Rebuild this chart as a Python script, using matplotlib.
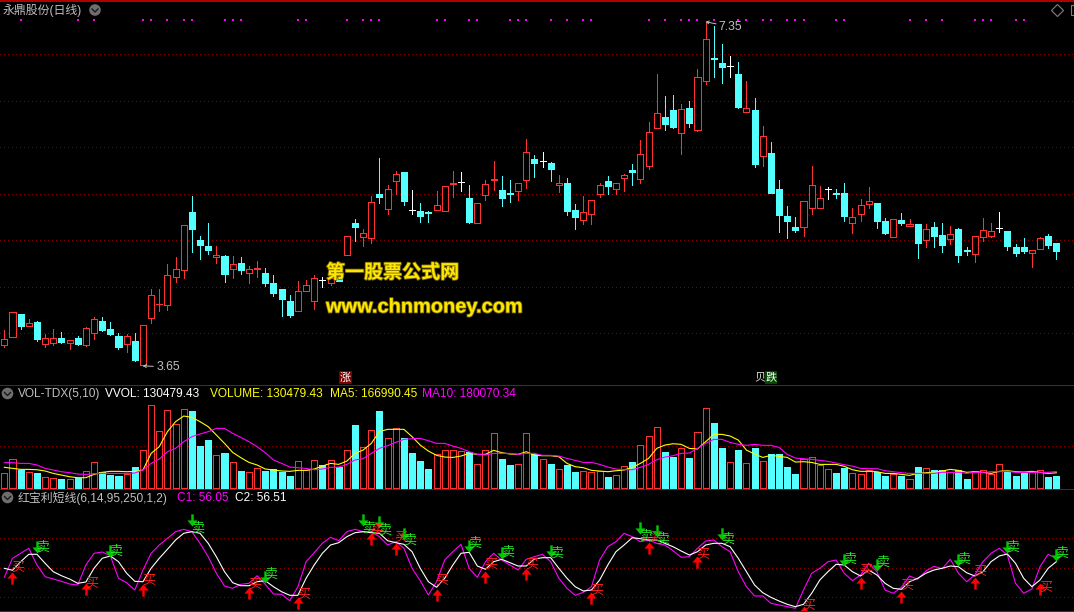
import matplotlib
matplotlib.use("Agg")
import matplotlib.pyplot as plt
from matplotlib.path import Path
from matplotlib.patches import Rectangle, Circle
import matplotlib.patheffects as pe
import numpy as np

opens = [3.87,3.96,4.21,4.08,4.12,3.88,3.90,3.95,3.90,3.95,
3.87,4.00,4.13,4.05,3.97,3.88,3.92,3.66,4.16,4.31,
4.30,4.61,4.68,5.30,5.00,4.94,4.82,4.83,4.69,4.76,
4.65,4.69,4.65,4.54,4.48,4.35,4.24,4.45,4.35,4.57,
4.54,4.59,4.84,5.19,5.04,5.02,5.50,5.34,5.64,5.73,
5.33,5.32,5.30,5.33,5.31,5.61,5.63,5.45,5.19,5.49,
5.65,5.54,5.51,5.53,5.65,5.87,5.85,5.83,5.60,5.62,
5.33,5.22,5.28,5.50,5.64,5.55,5.67,5.76,5.66,5.80,
6.21,6.33,6.40,6.15,6.42,6.19,6.71,6.96,6.91,6.87,
6.79,6.38,6.40,5.91,5.94,5.55,5.26,5.14,5.14,5.35,
5.35,5.55,5.51,5.51,5.19,5.28,5.39,5.40,5.21,5.04,
5.22,5.15,5.18,5.00,5.14,5.06,5.01,5.12,4.90,4.85,
5.04,5.05,5.13,5.10,4.93,4.93,4.86,4.91,5.05,4.97]
closes = [3.94,4.23,4.08,4.11,3.94,3.95,3.95,3.91,3.93,3.89,
4.06,4.15,4.04,3.99,3.85,3.97,3.71,4.09,4.41,4.32,
4.63,4.69,5.16,5.12,4.95,4.90,4.84,4.64,4.74,4.68,
4.69,4.70,4.54,4.43,4.37,4.20,4.45,4.52,4.60,4.57,
4.59,4.56,5.05,5.14,5.08,5.41,5.47,5.55,5.71,5.42,
5.33,5.26,5.29,5.38,5.58,5.62,5.63,5.20,5.40,5.61,
5.66,5.45,5.50,5.62,5.95,5.83,5.85,5.77,5.62,5.32,
5.25,5.30,5.43,5.60,5.58,5.62,5.70,5.73,5.93,6.17,
6.37,6.25,6.22,6.41,6.26,6.76,7.16,6.95,6.86,6.87,
6.43,6.42,5.82,6.12,5.51,5.27,5.21,5.11,5.42,5.60,
5.45,5.55,5.50,5.26,5.25,5.38,5.42,5.21,5.08,5.23,
5.19,5.18,4.97,5.12,5.05,4.95,5.07,4.84,4.89,5.05,
5.11,5.10,5.13,4.94,4.86,4.89,4.90,5.02,4.95,4.89]
highs = [4.04,4.23,4.21,4.15,4.13,3.99,4.05,4.01,3.93,3.97,
4.07,4.18,4.18,4.12,4.00,3.99,4.00,4.09,4.48,4.48,
4.74,4.82,5.16,5.48,5.05,5.19,4.94,4.84,4.83,4.82,
4.72,4.78,4.70,4.63,4.48,4.41,4.56,4.57,4.63,4.61,
4.68,4.62,5.05,5.23,5.12,5.48,5.89,5.59,5.75,5.73,
5.54,5.40,5.31,5.53,5.58,5.75,5.73,5.59,5.40,5.65,
5.85,5.69,5.65,5.62,6.09,5.92,5.95,5.84,5.70,5.67,
5.39,5.48,5.43,5.62,5.69,5.62,5.71,5.82,6.08,6.27,
6.79,6.55,6.56,6.47,6.50,6.84,7.35,7.30,7.11,6.98,
6.92,6.71,6.53,6.23,6.06,5.65,5.37,5.25,5.42,5.80,
5.58,5.57,5.55,5.62,5.35,5.44,5.57,5.40,5.24,5.23,
5.29,5.23,5.18,5.18,5.20,5.19,5.15,5.13,4.93,5.05,
5.24,5.19,5.30,5.10,4.96,5.03,4.90,5.04,5.07,4.97]
lows = [3.85,3.96,4.05,4.08,3.92,3.85,3.87,3.90,3.83,3.87,
3.86,3.94,4.02,3.98,3.83,3.80,3.70,3.65,4.11,4.24,
4.25,4.55,4.60,4.87,4.80,4.85,4.76,4.55,4.60,4.64,
4.54,4.61,4.51,4.40,4.19,4.18,4.24,4.45,4.26,4.50,
4.52,4.56,4.84,4.99,4.94,4.97,5.40,5.28,5.50,5.38,
5.28,5.20,5.20,5.33,5.31,5.47,5.53,5.19,5.19,5.43,
5.54,5.37,5.41,5.43,5.56,5.68,5.79,5.64,5.52,5.27,
5.12,5.18,5.18,5.47,5.50,5.50,5.53,5.59,5.62,5.77,
6.21,6.19,6.21,5.93,6.22,6.18,6.68,6.76,6.69,6.76,
6.42,6.38,5.79,5.80,5.51,5.09,5.03,5.09,5.05,5.28,
5.35,5.44,5.45,5.21,5.08,5.21,5.35,5.13,5.07,5.04,
5.17,5.15,4.81,4.93,4.93,4.87,4.96,4.77,4.84,4.77,
4.99,5.04,5.09,4.90,4.83,4.86,4.71,4.91,4.92,4.80]

# volume, thousands
volume = [160,317,201,172,164,116,104,97,93,104,183,283,172,145,134,149,231,418,921,630,
865,709,877,858,466,533,362,388,283,187,172,216,187,209,175,131,295,194,306,254,
306,231,418,701,455,642,858,552,664,556,388,298,209,373,418,418,407,395,261,418,
608,321,254,261,608,373,317,265,205,254,175,183,175,190,116,138,239,287,474,574,
675,399,343,440,332,619,888,724,444,283,421,272,444,295,377,377,231,153,321,339,
250,205,164,220,160,149,194,172,131,149,131,93,231,216,198,198,172,198,97,183,
194,149,261,179,131,164,172,194,119,130]
ma5 = [228,216,205,205,201,187,160,142,123,112,112,149,172,183,183,179,183,198,384,459,
627,739,802,787,739,683,589,496,395,336,283,254,209,198,187,183,194,194,209,242,
272,261,298,384,421,496,627,653,653,653,571,477,410,362,343,339,354,384,373,373,
418,392,377,373,403,362,358,358,347,272,235,224,194,187,179,190,198,228,272,328,
440,477,492,485,440,433,515,597,597,578,533,421,377,339,362,351,339,287,291,283,
261,261,261,239,201,183,183,179,160,160,149,138,160,168,175,187,205,194,172,179,
172,160,183,190,179,175,183,172,160,167]
ma10 = [280,280,272,272,254,216,198,179,168,153,149,157,160,160,160,160,164,198,272,321,
403,440,515,571,601,627,664,664,608,563,515,459,392,310,272,231,224,216,201,209,
228,231,261,310,325,384,440,470,507,541,548,552,526,496,496,466,440,403,373,366,
384,384,384,373,384,384,362,362,354,328,306,283,283,261,231,209,201,201,228,261,
313,343,358,384,388,440,496,541,541,507,485,474,485,474,474,451,373,332,325,317,
306,295,276,257,242,216,213,213,190,179,168,160,160,160,160,172,172,172,160,172,
172,179,179,183,172,172,172,172,172,180]

c1 = [41.0,60.0,65.0,70.0,53.3,41.6,39.3,37.0,34.3,33.3,53.3,65.0,66.3,62.6,40.0,35.6,28.3,48.3,65.0,73.3,
80.0,86.6,89.0,86.6,75.0,61.6,45.0,32.3,30.0,34.0,35.0,42.6,34.0,24.3,24.0,17.6,31.6,56.6,65.6,75.0,
81.0,77.6,86.6,89.0,86.6,86.6,81.6,73.3,76.6,70.0,50.0,37.6,23.3,36.6,58.3,66.6,74.0,50.0,41.0,56.6,
65.0,58.3,53.3,48.3,59.0,61.6,64.0,56.6,40.0,30.0,23.0,26.0,31.6,58.3,71.6,76.6,85.0,81.6,76.6,78.3,
75.0,73.3,67.6,61.0,61.6,70.0,77.3,78.3,71.6,66.6,46.6,31.6,22.3,22.3,15.0,13.3,11.6,10.0,28.3,45.0,
50.0,56.6,58.3,45.0,37.6,43.3,55.0,46.6,28.3,25.0,31.0,42.3,39.0,47.3,52.0,49.6,59.0,45.0,36.6,43.3,
56.6,65.0,70.0,63.3,35.0,25.0,29.3,51.6,64.0,60.0]
c2 = [50.0,48.0,56.6,64.0,64.0,55.0,46.6,42.6,39.3,35.0,36.3,50.0,60.0,62.3,56.6,45.0,37.0,36.6,50.0,60.0,
69.0,78.3,85.0,86.6,85.0,75.0,61.6,46.6,35.6,32.6,32.6,36.6,37.6,31.6,26.6,23.0,23.0,40.0,53.3,65.0,
73.3,75.6,81.6,85.6,86.6,85.6,85.0,77.6,75.6,74.0,66.6,50.0,36.6,31.0,40.0,53.3,65.0,66.0,52.3,49.0,
56.6,59.0,55.6,52.3,52.3,59.3,60.6,60.6,50.0,40.0,31.6,27.3,28.3,38.3,53.3,66.6,73.3,80.6,79.6,78.3,
78.3,75.0,71.6,67.3,63.3,66.6,73.3,75.0,75.0,71.6,60.0,46.6,33.3,25.6,21.0,17.3,14.0,11.6,14.0,25.0,
38.3,46.6,54.0,53.3,46.6,42.3,48.3,43.3,35.0,30.0,29.0,36.6,40.0,45.0,48.3,50.0,52.3,51.6,45.6,42.3,
46.6,56.6,62.3,64.3,55.0,40.0,31.6,38.3,50.0,56.6]

buy_bars = [1,10,17,30,36,45,48,53,59,64,72,79,85,98,105,110,119,127]
buy_tips = [46.6,35.6,34.3,31.6,21.0,85.6,75.0,29.6,47.0,50.6,26.6,76.6,62.6,12.6,41.0,27.6,41.0,35.0]
buy_text = [50.0,34.0,37.6,33.3,23.3,87.3,80.6,37.6,53.0,53.3,27.6,80.0,63.3,12.3,47.3,32.3,46.6,30.6]
sell_bars = [4,13,23,32,44,46,49,57,61,67,78,80,88,103,107,117,123,129]
sell_tips = [65.6,61.6,92.3,35.0,92.3,90.0,78.3,66.6,59.0,61.0,84.0,81.0,78.3,52.3,47.3,52.3,65.0,57.6]
sell_text = [70.6,66.6,90.0,43.3,90.0,87.6,77.3,75.0,65.6,64.3,81.6,78.3,78.3,58.3,55.6,59.0,71.0,64.3]
dot_bars = [2,9,11,17,18,20,22,23,27,28,29,36,37,42,44,45,46,53,54,57,58,62,63,64,67,69,71,72,
79,81,83,84,85,87,90,91,93,94,96,97,98,102,103,111,113,115,119,120,121,124,125]
dot_level = 7.37
price_grid = [4.0,4.5,5.0,5.5,6.0,6.5,7.0]
vol_grid = [462]
ind_grid = [80,50,21]

RED, CYAN, WHITE = '#ff3232', '#54ffff', '#ffffff'
GRID = '#8a0000'
BORDER = '#b00000'
GRAY = '#c0c0c0'
W, H = 1074, 612
PX = 0.72
THIN = 0.8

plt.rcParams['font.family'] = ['Liberation Sans', 'Noto Sans CJK SC']
fig = plt.figure(figsize=(W/100, H/100), dpi=100, facecolor='black')

def pane(y0, y1, ylim):
    ax = fig.add_axes([0, 1 - y1/H, 1, (y1 - y0)/H], facecolor='black')
    ax.set_xlim(-0.531, 131.17)
    ax.set_ylim(*ylim)
    ax.axis('off')
    return ax

def dotted(ax, levels):
    for v in levels:
        ax.axhline(v, color=GRID, lw=PX, ls=(0, (1, 3.4)), antialiased=False, zorder=1)

x = np.arange(len(closes))
O, C, Hi, Lo = map(np.array, (opens, closes, highs, lows))
n = len(x)
assert all(len(a) == n for a in (opens, highs, lows, volume, ma5, ma10, c1, c2))

# price pane
ax1 = pane(1, 385, (7.584 - 385/93, 7.584 - 1/93))
dotted(ax1, price_grid)
up = C > O
doji = C == O
candle_col = np.where(doji, WHITE, np.where(up, RED, CYAN))
top = np.maximum(O, C)
bot = np.minimum(O, C)
ax1.vlines(x, top, Hi, colors=candle_col, lw=PX, antialiased=False, zorder=2)
ax1.vlines(x, Lo, bot, colors=candle_col, lw=PX, antialiased=False, zorder=2)
body = ~doji
fc = np.where(up[body], 'black', CYAN)
ax1.bar(x[body], (top - bot)[body], bottom=bot[body], width=0.74, facecolor=fc,
        edgecolor=candle_col[body], linewidth=PX, antialiased=False, zorder=3)
ax1.hlines(O[doji], x[doji] - 0.37, x[doji] + 0.37, colors=WHITE, lw=PX, antialiased=False, zorder=3)
ax1.plot(np.array(dot_bars), np.full(len(dot_bars), dot_level), ls='none', marker='s', ms=1.9,
         mfc='#ff00ff', mec='#ff00ff', mew=0, antialiased=False, zorder=3)
imax, imin = int(np.argmax(Hi)), int(np.argmin(Lo))
for i, txt, off in ((imax, f'{Hi[imax]:.2f}', (9.5, -3.6)), (imin, f'{Lo[imin]:.2f}', (9.5, -0.8))):
    val = Hi[imax] if i == imax else Lo[imin]
    ax1.annotate(txt, xy=(i, val), xytext=off, textcoords='offset points', color=GRAY, fontsize=8.8,
                 va='center', ha='left',
                 arrowprops=dict(arrowstyle='->,head_length=0.2,head_width=0.12', color=GRAY, lw=0.7,
                                 shrinkA=0, shrinkB=0), zorder=6)

# volume pane
ax2 = pane(386, 488.6, ((487.7 - 488.6)*11.19, (487.7 - 386)*11.19))
dotted(ax2, vol_grid)
V = np.array(volume)
prev = np.r_[C[0], C[:-1]]
vup = (C > O) | ((C == O) & (C >= prev))
ax2.bar(x, V, width=0.74, facecolor=np.where(vup, 'black', CYAN),
        edgecolor=np.where(vup, RED, CYAN), linewidth=PX, antialiased=False, zorder=2)
ax2.plot(x, ma5, color='#ffff00', lw=THIN, zorder=3)
ax2.plot(x, ma10, color='#ff00ff', lw=THIN, zorder=4)

# indicator pane
ax3 = pane(490, 611, (128.3 - 121, 128.3))
dotted(ax3, ind_grid)
ax3.plot(x, c1, color='#ff00ff', lw=THIN, zorder=3)
ax3.plot(x, c2, color='white', lw=THIN, zorder=4)
arrow_up = Path([(0, 0), (0.42, -0.5), (0.1, -0.5), (0.1, -1), (-0.1, -1), (-0.1, -0.5), (-0.42, -0.5), (0, 0)], closed=True)
arrow_dn = Path([(0, 0), (0.42, 0.5), (0.1, 0.5), (0.1, 1), (-0.1, 1), (-0.1, 0.5), (-0.42, 0.5), (0, 0)], closed=True)
ax3.plot(buy_bars, buy_tips, ls='none', marker=arrow_up, ms=17.5, mfc='#ff0000', mec='none', zorder=5)
ax3.plot(sell_bars, sell_tips, ls='none', marker=arrow_dn, ms=17.5, mfc='#00c800', mec='none', zorder=5)
for i, v in zip(buy_bars, buy_text):
    ax3.text(i + 0.68, v, '买', color='#ff2020', fontsize=9.4, ha='center', va='center', zorder=6, clip_on=True)
for i, v in zip(sell_bars, sell_text):
    ax3.text(i + 0.68, v, '卖', color='#22e622', fontsize=9.4, ha='center', va='center', zorder=6, clip_on=True)

# screen furniture, in pixels
ov = fig.add_axes([0, 0, 1, 1], facecolor='none')
ov.set_xlim(0, W); ov.set_ylim(H, 0); ov.axis('off')
for y, h in ((0, 1.5), (385, 1.2), (489, 1.2), (611, 1.2)):
    ov.add_patch(Rectangle((0, y), W, h, fc=BORDER, ec='none', antialiased=False))

def label(px, py, s, col, fs=8.6, **kw):
    return ov.text(px, py, s, color=col, fontsize=fs, ha='left', va='center', **kw)

def button(px, py):
    ov.add_patch(Circle((px, py), 5.8, fc='#6e6e6e', ec='none'))
    ov.plot([px - 3, px, px + 3], [py - 1, py + 2, py - 1], color='#1a1a1a', lw=1)

label(2.5, 10, '永鼎股份(日线)', GRAY)
button(95, 10)
button(7.5, 393.5)
label(18, 394, 'VOL-TDX(5,10)', GRAY)
label(105, 394, 'VVOL: 130479.43', 'white')
label(210, 394, 'VOLUME: 130479.43', '#ffff00')
label(330, 394, 'MA5: 166990.45', '#ffff00')
label(422.5, 394, 'MA10: 180070.34', '#ff00ff')
button(7.5, 497.5)
label(18, 498, '红宝利短线(6,14,95,250,1,2)', GRAY)
label(177, 498, 'C1: 56.05', '#ff00ff')
label(235, 498, 'C2: 56.51', 'white')
ov.plot([1057], [10], marker='D', ms=6.5, mfc='none', mec='#808080', mew=0.8)
ov.add_patch(Rectangle((1071, 5), 8, 10, fc='none', ec='#808080', lw=0.8))

stroke = [pe.withStroke(linewidth=1.2, foreground='#7a6a00')]
label(326, 273, '第一股票公式网', '#ffe600', fs=13.7, fontweight='bold', path_effects=stroke, zorder=8)
label(326, 307, 'www.chnmoney.com', '#ffe600', fs=14.4, fontweight='bold', path_effects=stroke, zorder=8)

ov.add_patch(Rectangle((339, 371), 13, 13, fc='#7a0000', ec='none', antialiased=False))
ov.text(345.5, 377.5, '涨', color='white', fontsize=8, ha='center', va='center')
ov.add_patch(Rectangle((765, 371), 12, 13, fc='#004a00', ec='none', antialiased=False))
ov.text(771, 377.5, '跌', color='white', fontsize=8, ha='center', va='center')
ov.text(760, 377.5, '贝', color='#dddddd', fontsize=8, ha='center', va='center')

fig.savefig('out.png', dpi=100, facecolor='black')
